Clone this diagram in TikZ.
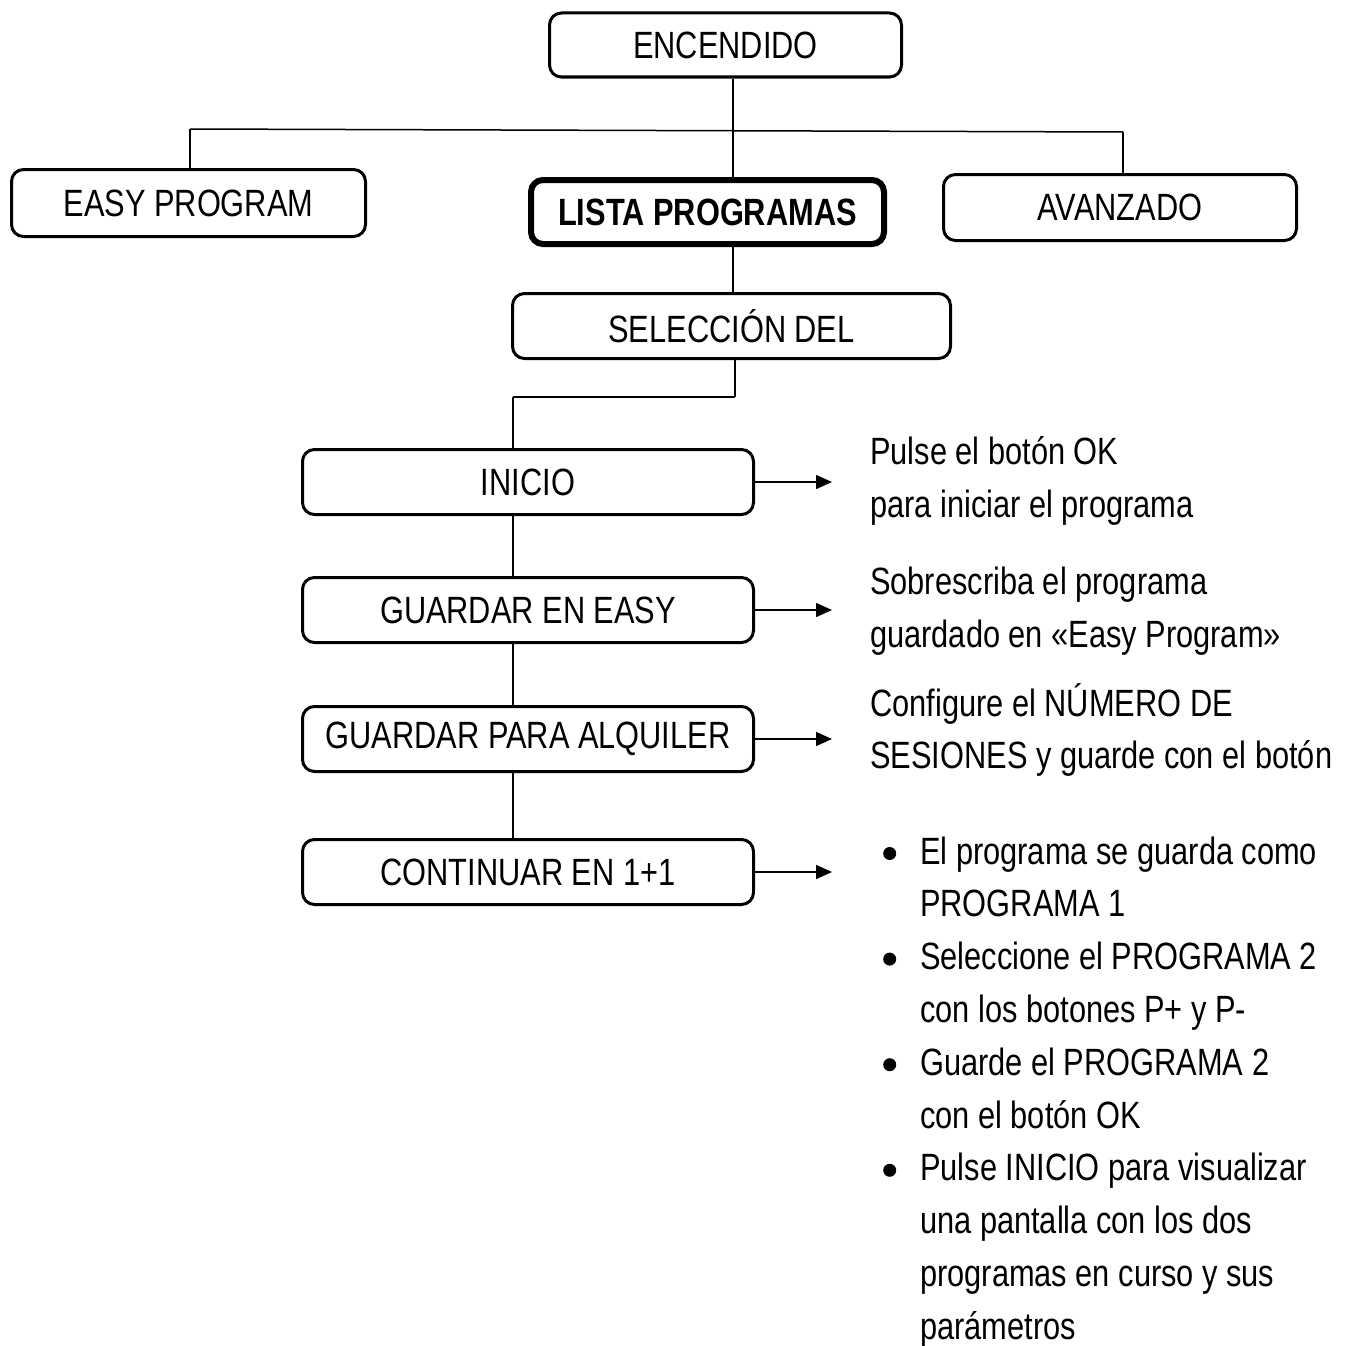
\documentclass[tikz,border=0pt]{standalone}
\usepackage{fontspec}
\setmainfont[FakeStretch=0.81]{Liberation Sans}
\usepackage{enumitem}
\usetikzlibrary{positioning,%
  arrows.meta%
}

\newcommand{\dotmark}{\raisebox{0.2ex}{\tikz\fill (0,0) circle (6.5pt);}}

\begin{document}
\begin{tikzpicture}
    [x=1pt, y=-1pt,
    every node/.style={font=\fontsize{38}{52.8}\selectfont},
    box/.style={rectangle, rounded corners=12pt,
        draw, line width=3pt, inner sep=0pt,
        minimum width=451pt, minimum height=65pt},
    mainbox/.style={box, line width=6pt},
    note/.style={anchor=west, align=left, inner sep=0pt},
    conn/.style={line width=1.5pt},
    pointer/.style={conn, -{Triangle[length=16pt,width=14pt]}}]

    \useasboundingbox (0,0) rectangle (1349,1346);

    % top level
    \node[box, minimum width=352pt, minimum height=64pt] (enc)
        at (725.5,45) {ENCENDIDO};
    \node[box, minimum width=354pt, minimum height=67pt] (easy)
        at (188.5,203) {EASY PROGRAM};
    \node[mainbox, minimum width=353pt, minimum height=64pt] (lista)
        at (707.5,212) {\textbf{LISTA PROGRAMAS}};
    \node[box, minimum width=353pt, minimum height=66pt] (avanz)
        at (1120,207.5) {AVANZADO};
    \node[box, minimum width=438pt, minimum height=65pt] (sel)
        at (731.5,326) {SELECCIÓN DEL};

    % steps
    \node[box] (inicio) at (528,482) {INICIO};
    \node[box, below=60pt of inicio] (gsave) {GUARDAR EN EASY};
    \node[box, below=61pt of gsave] (galq) {GUARDAR PARA ALQUILER};
    \node[box, below=65pt of galq] (cont) {CONTINUAR EN 1+1};

    % notes
    \node[note] (tinicio) at (870,481)
        {Pulse el botón OK\\para iniciar el programa};
    \node[note] (tgsave) at (870,611)
        {Sobrescriba el programa\\guardado en «Easy Program»};
    \node[note] (tgalq) at (870,730)
        {Configure el NÚMERO DE\\SESIONES y guarde con el botón};
    \node[anchor=north west, inner sep=0pt, text width=479pt] (tcont) at (870,811)
        {\raggedright\spaceskip=0pt\xspaceskip=0pt
         \begin{itemize}[label=\dotmark, leftmargin=50pt, labelsep=24pt,
                         itemsep=0pt, topsep=0pt, parsep=0pt, partopsep=0pt]
         \item El programa se guarda como\\PROGRAMA 1
         \item Seleccione el PROGRAMA 2\\con los botones P+ y P-
         \item Guarde el PROGRAMA 2\\con el botón OK
         \item Pulse INICIO para visualizar\\una pantalla con los dos\\programas en curso y sus\\parámetros
         \end{itemize}};

    % tree lines
    \coordinate (hl) at (190,129);
    \coordinate (hr) at (1123,132);
    \coordinate (trunk) at (733,0);
    \coordinate (sl) at (513,397);
    \coordinate (sr) at (735,397);
    \coordinate (tip) at (832,0);

    \draw[conn] (hl) -- (hr);
    \draw[conn] (hl) -- (hl |- easy.north);
    \draw[conn] (hr) -- (hr |- avanz.north);
    \draw[conn] (enc.south -| trunk) -- (lista.north -| trunk);
    \draw[conn] (lista.south -| trunk) -- (sel.north -| trunk);
    \draw[conn] (sel.south -| sr) -- (sr);
    \draw[conn] (sl) -- (sr);
    \draw[conn] (sl) -- (inicio.north -| sl);
    \draw[conn] (inicio.south -| sl) -- (gsave.north -| sl);
    \draw[conn] (gsave.south -| sl) -- (galq.north -| sl);
    \draw[conn] (galq.south -| sl) -- (cont.north -| sl);

    \foreach \b in {inicio,gsave,galq,cont}
        \draw[pointer] (\b.east) -- (\b.east -| tip);
\end{tikzpicture}
\end{document}
